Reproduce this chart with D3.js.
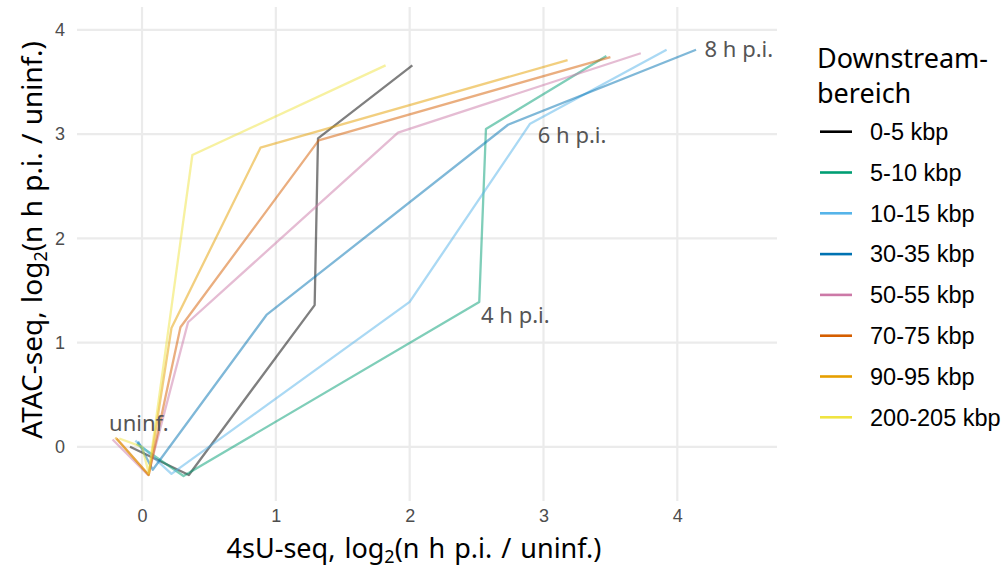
<!DOCTYPE html>
<html>
<head>
<meta charset="utf-8">
<script src="https://cdn.jsdelivr.net/npm/d3@7"></script>
<style>
  html, body { margin: 0; padding: 0; background: #fff; }
  svg { display: block; }
</style>
</head>
<body>
<svg id="chart" width="1008" height="567"></svg>
<script>
// Downstream regions and their colours (Okabe-Ito)
const regions = ["0-5 kbp", "5-10 kbp", "10-15 kbp", "30-35 kbp", "50-55 kbp", "70-75 kbp", "90-95 kbp", "200-205 kbp"];
const regionColors = ["#000000", "#009E73", "#56B4E9", "#0072B2", "#CC79A7", "#D55E00", "#E69F00", "#F0E442"];

// 4sU-seq log2 fold change along the infection time course, per region
const fold4sU = [
  [-0.09, 0.35, 1.29, 1.315, 2.02],
  [-0.04, 0.31, 2.52, 2.57, 3.47],
  [-0.05, 0.22, 2.00, 2.90, 3.92],
  [-0.03, 0.08, 0.93, 2.735, 4.14],
  [-0.22, 0.045, 0.344, 1.913, 3.727],
  [-0.19, 0.05, 0.287, 1.32, 3.50],
  [-0.20, 0.05, 0.22, 0.885, 3.18],
  [-0.17, 0.00, 0.05, 0.376, 1.82]
];
// ATAC-seq log2 fold change, same time points
const foldATAC = [
  [0.00, -0.27, 1.36, 2.96, 3.66],
  [0.03, -0.28, 1.39, 3.05, 3.75],
  [0.06, -0.26, 1.39, 3.10, 3.81],
  [0.05, -0.22, 1.265, 3.09, 3.81],
  [0.07, -0.27, 1.195, 3.015, 3.776],
  [0.08, -0.27, 1.147, 2.94, 3.74],
  [0.09, -0.27, 1.14, 2.87, 3.71],
  [0.08, 0.00, -0.25, 2.80, 3.66]
];

// Time point annotations
const labelText = ["uninf.", "4 h p.i.", "6 h p.i.", "8 h p.i."];
const labelX = [-0.024, 2.79, 3.214, 4.46];
const labelY = [0.152, 1.185, 2.913, 3.744];

const xTicks = [0, 1, 2, 3, 4];
const yTicks = [0, 1, 2, 3, 4];

const svg = d3.select("#chart");
const panel = { left: 77, right: 777, top: 7, bottom: 501 };

const x = d3.scaleLinear().domain([-0.486, 4.745]).range([panel.left, panel.right]);
const y = d3.scaleLinear().domain([-0.52, 4.22]).range([panel.bottom, panel.top]);

// grid
const grid = svg.append("g");
grid.selectAll(".gx").data(xTicks).join("line")
  .attr("x1", d => x(d)).attr("x2", d => x(d))
  .attr("y1", panel.top).attr("y2", panel.bottom)
  .attr("stroke", "#EBEBEB").attr("stroke-width", 2.2);
grid.selectAll(".gy").data(yTicks).join("line")
  .attr("y1", d => y(d)).attr("y2", d => y(d))
  .attr("x1", panel.left).attr("x2", panel.right)
  .attr("stroke", "#EBEBEB").attr("stroke-width", 2.2);

// axes (labels only, theme_minimal style)
const xAxis = svg.append("g").attr("transform", `translate(0,${panel.bottom})`)
  .call(d3.axisBottom(x).tickValues(xTicks).tickFormat(d3.format("d")).tickSize(0).tickPadding(8));
const yAxis = svg.append("g").attr("transform", `translate(${panel.left},0)`)
  .call(d3.axisLeft(y).tickValues(yTicks).tickFormat(d3.format("d")).tickSize(0).tickPadding(12));
[xAxis, yAxis].forEach(a => {
  a.select(".domain").remove();
  a.selectAll("text")
    .attr("fill", "#4D4D4D")
    .style("font-family", "'Liberation Sans', Arial, sans-serif")
    .style("font-size", "18px");
});

// trajectories
const line = d3.line().x(d => x(d[0])).y(d => y(d[1]));
const traj = regions.map((r, i) => fold4sU[i].map((v, j) => [v, foldATAC[i][j]]));
svg.append("g").selectAll("path").data(traj).join("path")
  .attr("d", line)
  .attr("fill", "none")
  .attr("stroke", (d, i) => regionColors[i])
  .attr("stroke-opacity", 0.5)
  .attr("stroke-width", 2.3)
  .attr("stroke-linejoin", "round");

// time point labels
svg.append("g").selectAll("text").data(labelText).join("text")
  .attr("x", (d, i) => x(labelX[i]))
  .attr("y", (d, i) => y(labelY[i]))
  .attr("text-anchor", "middle")
  .attr("fill", "#555555")
  .style("font-family", "'Noto Sans', sans-serif")
  .style("font-size", "22px")
  .text(d => d);

// axis titles
const titleFont = "'Noto Sans', sans-serif";
function axisTitle(sel, lead) {
  sel.append("tspan").text(lead + ", log");
  sel.append("tspan").text("2").style("font-size", "18px").attr("dy", 5);
  sel.append("tspan").text("(n h p.i. / uninf.)").attr("dy", -5);
}
const xt = svg.append("text")
  .attr("x", 414).attr("y", 558)
  .attr("text-anchor", "middle")
  .style("font-family", titleFont).style("font-size", "27px").style("word-spacing", "2px")
  .attr("fill", "#000");
axisTitle(xt, "4sU-seq");

const yt = svg.append("text")
  .attr("transform", "translate(42,240) rotate(-90)")
  .attr("text-anchor", "middle")
  .style("font-family", titleFont).style("font-size", "28px").style("word-spacing", "1px")
  .attr("fill", "#000");
axisTitle(yt, "ATAC-seq");

// legend
const legend = svg.append("g");
legend.append("text").attr("x", 817).attr("y", 68)
  .style("font-family", titleFont).style("font-size", "27px").text("Downstream-");
legend.append("text").attr("x", 817).attr("y", 103)
  .style("font-family", titleFont).style("font-size", "27px").text("bereich");
const items = legend.selectAll(".item").data(regions).join("g")
  .attr("transform", (d, i) => `translate(0,${131.7 + i * 40.8})`);
items.append("line").attr("x1", 820).attr("x2", 852).attr("y1", 0).attr("y2", 0)
  .attr("stroke", (d, i) => regionColors[i]).attr("stroke-width", 2.6);
items.append("text").attr("x", 870).attr("y", 0).attr("dy", "0.35em")
  .style("font-family", "'Liberation Sans', Arial, sans-serif").style("font-size", "23.5px")
  .text(d => d);
</script>
</body>
</html>
